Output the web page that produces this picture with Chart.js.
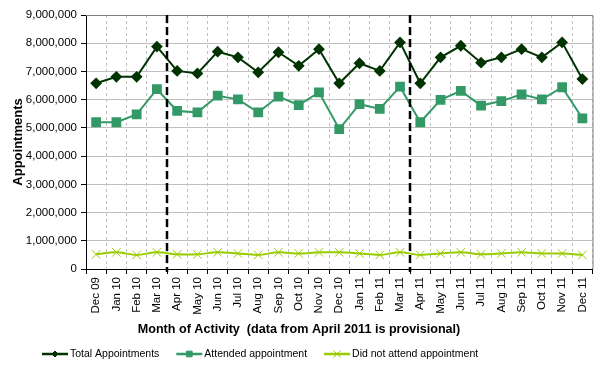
<!DOCTYPE html>
<html>
<head>
<meta charset="utf-8">
<script src="https://cdn.jsdelivr.net/npm/chart.js@4.4.1/dist/chart.umd.min.js"></script>
<style>
html,body{margin:0;padding:0;background:#fff;}
#wrap{width:600px;height:376px;}
</style>
</head>
<body>
<div id="wrap"><canvas id="c" width="600" height="376"></canvas></div>
<script>
const months = ["Dec 09","Jan 10","Feb 10","Mar 10","Apr 10","May 10","Jun 10","Jul 10","Aug 10","Sep 10","Oct 10","Nov 10","Dec 10","Jan 11","Feb 11","Mar 11","Apr 11","May 11","Jun 11","Jul 11","Aug 11","Sep 11","Oct 11","Nov 11","Dec 11"];
const totalAppointments = [6580000,6810000,6810000,7880000,7020000,6930000,7700000,7500000,6970000,7680000,7200000,7790000,6580000,7290000,7020000,8030000,6580000,7500000,7910000,7310000,7500000,7790000,7500000,8030000,6730000];
const attended = [5200000,5200000,5480000,6370000,5600000,5550000,6140000,6010000,5550000,6110000,5810000,6260000,4960000,5840000,5670000,6460000,5200000,5990000,6310000,5790000,5950000,6190000,6010000,6440000,5340000];
const didNotAttend = [520000,590000,500000,590000,520000,520000,590000,550000,500000,590000,550000,590000,590000,550000,500000,590000,500000,550000,590000,520000,550000,590000,550000,550000,500000];
const provisionalMarkers = ["Apr 10","Apr 11"];
const yTicks = [0,1000000,2000000,3000000,4000000,5000000,6000000,7000000,8000000,9000000];
const xTitle = "Month of Activity  (data from April 2011 is provisional)";
const yTitle = "Appointments";

const FONT = "'Liberation Sans', Arial, sans-serif";

const extras = {
  id: 'extras',
  afterDatasetsDraw(chart) {
    const ctx = chart.ctx, a = chart.chartArea, xs = chart.scales.x;
    ctx.save();
    ctx.strokeStyle = '#808080'; ctx.lineWidth = 1; ctx.setLineDash([]);
    ctx.beginPath();
    ctx.moveTo(a.left, a.top + 0.5); ctx.lineTo(a.right + 0.5, a.top + 0.5); ctx.lineTo(a.right + 0.5, a.bottom);
    ctx.stroke();
    ctx.strokeStyle = '#000'; ctx.lineWidth = 2.5; ctx.setLineDash([8, 4]);
    provisionalMarkers.forEach(m => {
      const i = months.indexOf(m);
      const x = Math.round(xs.getPixelForValue(i - 0.5));
      ctx.beginPath(); ctx.moveTo(x, a.top); ctx.lineTo(x, a.bottom + 3); ctx.stroke();
    });
    ctx.restore();
  },
  afterDraw(chart) {
    const ctx = chart.ctx;
    ctx.save();
    ctx.font = "bold 12.6px " + FONT;
    ctx.fillStyle = '#000'; ctx.textAlign = 'center'; ctx.textBaseline = 'middle';
    ctx.fillText(xTitle, 299, 330);
    ctx.font = "10.5px " + FONT;
    ctx.textAlign = 'left';
    let x = 42; const y = 354;
    chart.data.datasets.forEach(ds => {
      ctx.strokeStyle = ds.borderColor; ctx.lineWidth = 2.5; ctx.setLineDash([]);
      ctx.beginPath(); ctx.moveTo(x, y); ctx.lineTo(x + 26, y); ctx.stroke();
      ctx.fillStyle = ds.pointBackgroundColor;
      ctx.strokeStyle = ds.pointBorderColor;
      ctx.lineWidth = 1;
      Chart.helpers.drawPoint(ctx, {pointStyle: ds.pointStyle, radius: ds.legendRadius, rotation: 0, borderWidth: 1}, x + 13, y);
      ctx.fillStyle = '#000';
      ctx.fillText(ds.label, x + 28, y);
      x += 28 + ctx.measureText(ds.label).width + 17;
    });
    ctx.restore();
  }
};

new Chart(document.getElementById('c'), {
  type: 'line',
  data: {
    labels: months,
    datasets: [
      {label: 'Total Appointments', data: totalAppointments, borderColor: '#003300', backgroundColor: '#003300', pointBackgroundColor: '#003300', pointBorderColor: '#003300', pointStyle: 'rectRot', pointRadius: 4.5, borderWidth: 2, tension: 0, legendRadius: 3},
      {label: 'Attended appointment', data: attended, borderColor: '#339966', backgroundColor: '#339966', pointBackgroundColor: '#339966', pointBorderColor: '#339966', pointStyle: 'rect', pointRadius: 5.5, borderWidth: 2, tension: 0, legendRadius: 4},
      {label: 'Did not attend appointment', data: didNotAttend, borderColor: '#99cc00', backgroundColor: '#99cc00', pointBackgroundColor: '#99cc00', pointBorderColor: '#99cc00', pointStyle: 'crossRot', pointRadius: 6, pointBorderWidth: 1, borderWidth: 2, tension: 0.3, legendRadius: 5}
    ]
  },
  options: {
    responsive: false,
    animation: false,
    devicePixelRatio: 1,
    layout: {padding: {left: 0, right: 5, top: 15, bottom: 0}},
    plugins: {legend: {display: false}, tooltip: {enabled: false}},
    scales: {
      x: {
        offset: true,
        grid: {offset: true, color: '#c0c0c0', lineWidth: 1, drawTicks: true, tickLength: 5, tickColor: '#000'},
        border: {display: true, color: '#000', width: 1, dash: [3,3]},
        ticks: {color: '#000', font: {family: FONT, size: 11.5}, minRotation: 90, maxRotation: 90, autoSkip: false, padding: 3},
        afterFit(s) { s.height = 107; }
      },
      y: {
        min: 0, max: 9000000,
        afterBuildTicks(s) { s.ticks = yTicks.map(v => ({value: v})); },
        grid: {color: '#c0c0c0', lineWidth: 1, tickLength: 5, tickColor: '#000'},
        border: {display: true, color: '#000', width: 1},
        ticks: {color: '#000', font: {family: FONT, size: 11.5}, padding: 4, callback: v => v.toLocaleString('en-GB')},
        title: {display: true, text: yTitle, color: '#000', font: {family: FONT, size: 13, weight: 'bold'}, padding: {top: 11, bottom: 0}},
        afterFit(s) { s.width = 86; }
      }
    }
  },
  plugins: [extras]
});
</script>
</body>
</html>
